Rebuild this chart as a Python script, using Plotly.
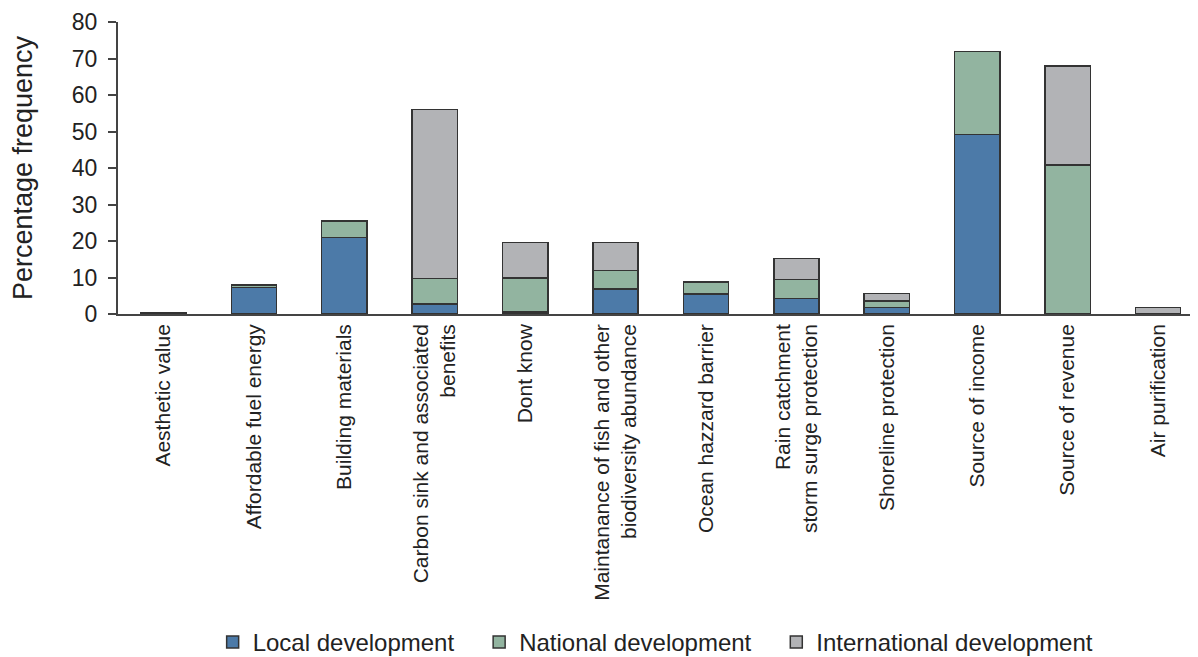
import plotly.graph_objects as go

categories = [
    "Aesthetic value",
    "Affordable fuel energy",
    "Building materials",
    "Carbon sink and associated<br>benefits",
    "Dont know",
    "Maintanance of fish and other<br>biodiversity abundance",
    "Ocean hazzard barrier",
    "Rain catchment<br>storm surge protection",
    "Shoreline protection",
    "Source of income",
    "Source of revenue",
    "Air purification",
]
local_dev = [0.4, 7.2, 21.0, 2.7, 0.5, 6.8, 5.5, 4.3, 1.8, 49.2, None, None]
national_dev = [None, 0.7, 4.5, 7.0, 9.4, 5.1, 3.3, 5.1, 1.8, 22.7, 40.8, None]
international_dev = [None, None, None, 46.3, 9.7, 7.7, None, 5.8, 2.0, None, 27.1, 1.8]

series_names = ["Local development", "National development", "International development"]
series_values = [local_dev, national_dev, international_dev]
series_colors = ["#4c7aa8", "#92b4a0", "#b2b3b6"]

PAD = "\u00a0\u00a0\u00a0"  # extra spacing after legend text

fig = go.Figure()
for name, vals, col in zip(series_names, series_values, series_colors):
    fig.add_trace(go.Bar(
        x=categories, y=vals, name=name + PAD,
        marker=dict(color=col, line=dict(color="#333333", width=1.5)),
    ))

font_family = "Liberation Sans, Arial, sans-serif"
fig.update_layout(
    barmode="stack",
    bargap=0.5,
    width=1198, height=657,
    margin=dict(l=110, r=0, t=14, b=351),
    plot_bgcolor="white", paper_bgcolor="white",
    font=dict(family=font_family, color="#222222"),
    showlegend=True,
    legend=dict(
        orientation="h", x=0.087, xanchor="left", y=-1.128, yanchor="middle",
        font=dict(size=24, color="#222222"), traceorder="normal",
        itemwidth=30,
    ),
    xaxis=dict(
        tickangle=-90, tickfont=dict(size=21),
        showline=True, linecolor="#444444", linewidth=1.5,
        ticks="", range=[-0.503, 11.53], automargin=False,
    ),
    yaxis=dict(
        range=[0, 80], dtick=10, showgrid=False, zeroline=False,
        showline=True, linecolor="#444444", linewidth=1.5,
        ticks="outside", ticklen=8, tickcolor="#444444", tickwidth=1.5,
        tickfont=dict(size=23), ticksuffix="\u00a0", automargin=False,
        ticklabeloverflow="allow",
        title=dict(text="Percentage frequency", font=dict(size=27), standoff=33),
    ),
)

fig.write_html("out.html")
